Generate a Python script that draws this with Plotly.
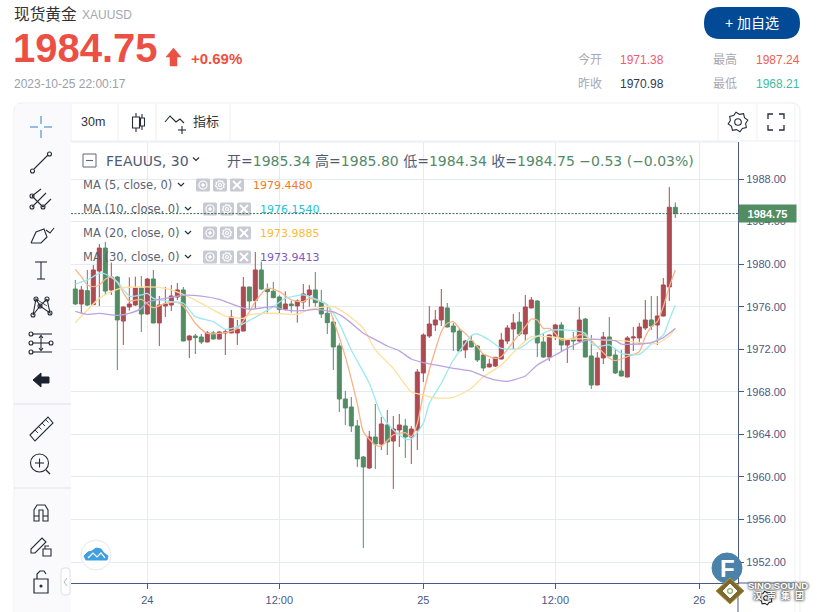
import math
import plotly.graph_objects as go

W, H = 817, 612

# 30m candles
OPEN = [1977.66, 1976.25, 1977.50, 1976.19, 1979.35, 1981.51, 1977.57, 1978.79, 1974.65, 1975.97,
        1976.16, 1977.75, 1975.31, 1978.60, 1974.47, 1976.06, 1976.16, 1976.91, 1977.57, 1972.87,
        1973.24, 1973.15, 1972.68, 1973.53, 1972.96, 1973.53, 1973.53, 1973.53, 1973.71, 1977.85,
        1976.57, 1979.45, 1977.66, 1977.44, 1976.91, 1975.75, 1976.25, 1976.07, 1976.44, 1977.10,
        1977.57, 1976.44, 1975.38, 1974.56, 1972.31, 1967.32, 1966.57, 1964.79, 1961.87, 1960.84,
        1963.75, 1963.09, 1964.88, 1963.37, 1964.41, 1964.79, 1963.75, 1964.41, 1969.77, 1973.24,
        1974.28, 1974.75, 1975.88, 1974.18, 1973.71, 1971.93, 1972.77, 1972.30, 1971.46, 1970.33,
        1970.42, 1971.08, 1972.77, 1973.90, 1974.56, 1973.43, 1975.88, 1976.53, 1972.68, 1971.27,
        1973.24, 1974.28, 1972.40, 1972.96, 1972.77, 1974.84, 1971.37, 1968.64, 1971.18, 1973.15,
        1971.46, 1969.95, 1969.39, 1973.06, 1973.06, 1974.00, 1974.75, 1974.28, 1975.12, 1977.85,
        1985.34]
HIGH = [1978.51, 1977.94, 1979.45, 1979.92, 1981.89, 1982.08, 1980.14, 1978.88, 1976.00, 1978.76,
        1978.82, 1978.88, 1978.70, 1979.45, 1977.00, 1977.85, 1978.04, 1978.22, 1977.85, 1973.34,
        1973.43, 1973.43, 1973.71, 1973.71, 1973.71, 1973.81, 1975.69, 1974.75, 1978.79, 1977.88,
        1981.14, 1980.23, 1978.19, 1978.32, 1977.07, 1977.44, 1976.57, 1976.69, 1978.13, 1978.04,
        1979.26, 1977.57, 1976.07, 1974.91, 1972.56, 1968.08, 1967.51, 1965.35, 1961.97, 1964.32,
        1966.85, 1965.63, 1966.29, 1965.72, 1965.91, 1965.44, 1964.79, 1970.14, 1973.49, 1976.06,
        1975.69, 1977.66, 1976.35, 1974.47, 1974.00, 1972.87, 1973.24, 1972.40, 1971.55, 1971.08,
        1971.27, 1973.53, 1974.28, 1975.31, 1975.50, 1977.10, 1976.91, 1976.62, 1973.43, 1973.37,
        1974.37, 1974.56, 1972.90, 1973.62, 1975.97, 1974.94, 1973.34, 1971.74, 1973.62, 1975.03,
        1972.02, 1971.93, 1973.24, 1974.09, 1974.47, 1976.62, 1977.00, 1977.00, 1978.70, 1987.24,
        1985.80]
LOW = [1976.16, 1975.37, 1976.06, 1976.16, 1976.06, 1977.10, 1977.10, 1970.05, 1972.40, 1975.62,
       1976.06, 1973.62, 1975.25, 1974.44, 1972.30, 1975.03, 1975.59, 1976.62, 1972.75, 1971.18,
       1971.55, 1972.49, 1972.65, 1972.93, 1972.93, 1971.46, 1973.50, 1972.40, 1973.68, 1975.69,
       1975.84, 1977.57, 1975.44, 1976.78, 1975.31, 1975.63, 1975.44, 1974.50, 1975.75, 1976.00,
       1976.00, 1974.94, 1973.43, 1970.05, 1966.10, 1964.88, 1964.22, 1960.93, 1953.32, 1960.74,
       1960.74, 1962.53, 1962.06, 1958.87, 1962.81, 1961.78, 1961.21, 1962.53, 1968.92, 1973.06,
       1973.71, 1974.18, 1974.06, 1971.83, 1971.74, 1971.18, 1972.18, 1970.80, 1969.95, 1970.30,
       1970.33, 1971.05, 1972.49, 1972.02, 1973.24, 1972.77, 1975.85, 1971.27, 1971.18, 1970.90,
       1972.87, 1971.83, 1970.71, 1971.93, 1972.68, 1971.24, 1968.26, 1968.61, 1970.61, 1971.34,
       1969.67, 1969.45, 1969.36, 1971.83, 1972.46, 1973.81, 1973.81, 1972.40, 1975.09, 1976.53,
       1984.34]
CLOSE = [1976.25, 1977.57, 1976.16, 1979.45, 1981.51, 1977.47, 1978.79, 1974.75, 1975.97, 1976.25,
         1977.75, 1975.31, 1978.60, 1974.47, 1976.16, 1976.25, 1977.00, 1977.57, 1972.77, 1973.24,
         1973.09, 1972.68, 1973.53, 1972.96, 1973.62, 1973.62, 1975.03, 1973.90, 1977.85, 1976.53,
         1979.45, 1977.66, 1977.41, 1976.85, 1975.75, 1976.25, 1976.10, 1976.54, 1977.19, 1977.57,
         1976.38, 1975.31, 1974.50, 1972.21, 1967.32, 1966.48, 1964.79, 1961.69, 1960.93, 1963.75,
         1963.09, 1964.97, 1963.28, 1964.50, 1964.88, 1963.75, 1964.50, 1969.86, 1973.34, 1974.37,
         1974.75, 1975.97, 1974.09, 1973.62, 1971.83, 1972.77, 1972.21, 1970.99, 1970.24, 1970.61,
         1971.24, 1972.87, 1974.00, 1974.47, 1973.43, 1975.97, 1976.62, 1972.59, 1971.27, 1973.34,
         1974.28, 1972.40, 1972.87, 1972.77, 1974.75, 1971.27, 1968.64, 1971.18, 1973.15, 1971.37,
         1969.77, 1969.48, 1973.06, 1973.15, 1974.09, 1974.75, 1974.18, 1975.12, 1978.04, 1985.34,
         1984.75]

TICK_BARS = [12, 34, 58, 80, 104]
TICK_TEXT = ["24", "12:00", "25", "12:00", "26"]
PRICE_TICKS = [1952, 1956, 1960, 1964, 1968, 1972, 1976, 1980, 1984, 1988]
LAST_PRICE = 1984.75

# moving averages, read at the bars where the curves bend
MA5_BARS = [0, 1, 2, 3, 4, 5, 6, 7, 8, 9, 11, 13, 15, 17, 18, 20, 22, 25, 27, 29, 30, 32, 34, 36, 38, 39,
            42, 43, 45, 47, 48, 50, 51, 53, 55, 56, 57, 58, 59, 60, 61, 62, 63, 64, 65, 67, 68, 70, 71,
            73, 75, 76, 77, 78, 79, 80, 81, 83, 84, 85, 87, 89, 90, 92, 94, 95, 96, 97, 98, 99, 100]
MA5 = [1979.51, 1978.82, 1978.04, 1977.88, 1978.04, 1978.57, 1978.82, 1978.26, 1977.32, 1976.53, 1976.69,
       1975.90, 1976.32, 1976.41, 1976.06, 1974.44, 1973.49, 1973.55, 1973.96, 1975.50, 1976.47, 1977.72,
       1977.41, 1976.63, 1976.47, 1976.78, 1976.16, 1974.75, 1971.30, 1966.85, 1964.25, 1963.00, 1962.90,
       1963.94, 1964.16, 1963.78, 1965.00, 1967.80, 1970.05, 1971.93, 1973.65, 1974.44, 1974.59, 1973.96,
       1973.49, 1972.25, 1971.55, 1971.15, 1971.30, 1972.71, 1974.12, 1974.84, 1974.75, 1973.96, 1973.96,
       1973.49, 1972.87, 1973.03, 1973.34, 1973.30, 1972.25, 1971.15, 1970.93, 1971.30, 1971.77, 1973.18,
       1974.12, 1974.59, 1976.00, 1977.88, 1979.45]
MA10_BARS = [0, 2, 4, 5, 7, 9, 11, 12, 13, 16, 18, 20, 23, 25, 27, 29, 33, 35, 38, 39, 42, 44, 46, 49, 51,
             53, 55, 56, 58, 59, 61, 63, 65, 66, 67, 69, 71, 74, 76, 79, 82, 85, 86, 87, 89, 91, 94, 96,
             98, 99, 100]
MA10 = [1978.13, 1978.51, 1979.13, 1979.07, 1978.35, 1977.00, 1977.10, 1977.25, 1976.78, 1976.47, 1976.32,
        1975.06, 1974.59, 1973.87, 1974.12, 1974.70, 1976.00, 1976.78, 1977.10, 1976.94, 1976.16, 1974.43,
        1971.93, 1968.80, 1965.82, 1964.41, 1963.56, 1963.56, 1965.04, 1966.91, 1968.80, 1970.99, 1972.56,
        1973.28, 1973.43, 1972.87, 1972.08, 1972.08, 1972.87, 1973.74, 1973.80, 1973.49, 1972.56, 1972.25,
        1972.40, 1971.62, 1971.52, 1972.49, 1973.34, 1974.75, 1976.15]
MA20_BARS = [0, 2, 4, 6, 8, 11, 14, 16, 20, 23, 25, 28, 29, 33, 37, 39, 43, 45, 48, 50, 53, 56, 58, 60, 63,
             66, 68, 71, 74, 76, 79, 82, 85, 88, 91, 94, 97, 99, 100]
MA20 = [1974.50, 1975.69, 1976.78, 1977.41, 1977.79, 1977.85, 1977.82, 1977.57, 1976.62, 1975.69, 1975.12,
        1974.90, 1975.22, 1975.38, 1975.28, 1975.75, 1976.00, 1975.38, 1973.97, 1971.93, 1970.20, 1968.00,
        1967.70, 1967.42, 1967.48, 1968.33, 1969.42, 1970.52, 1972.25, 1973.18, 1973.18, 1972.93, 1973.00,
        1972.87, 1972.80, 1972.62, 1972.55, 1973.24, 1973.99]
MA30_BARS = [0, 2, 4, 7, 9, 11, 12, 15, 18, 21, 24, 27, 29, 33, 35, 38, 40, 43, 45, 48, 50, 52, 54, 56, 58,
             60, 63, 66, 68, 70, 72, 73, 75, 77, 80, 82, 84, 86, 90, 91, 94, 96, 98, 100]
MA30 = [1975.56, 1975.28, 1975.37, 1975.19, 1975.37, 1975.84, 1976.41, 1976.78, 1977.07, 1977.00, 1976.69,
        1976.06, 1975.75, 1976.00, 1975.69, 1975.62, 1975.75, 1975.50, 1974.90, 1973.50, 1972.90, 1972.30,
        1971.85, 1971.08, 1970.74, 1970.52, 1970.21, 1969.95, 1969.48, 1969.11, 1968.98, 1969.11, 1969.48,
        1970.52, 1971.46, 1972.08, 1972.62, 1972.93, 1972.80, 1972.49, 1972.49, 1972.62, 1973.09, 1973.94]

UP = "#ad4a52"
DOWN = "#528c63"
GRID = "#e4ecf2"
AXIS = "#4a5a86"
DARK = "#262b38"
CJK = "Liberation Sans, Noto Sans CJK SC"
VERD = "DejaVu Sans, Noto Sans CJK SC"


def X(p):
    return p / W


def Y(p):
    return 1 - p / H


fig = go.Figure()
# MAs go under the candles like the reference
for bars, vals, col in [(MA5_BARS, MA5, "#fbb286"), (MA10_BARS, MA10, "#9be8f1"),
                        (MA20_BARS, MA20, "#ffdf9b"), (MA30_BARS, MA30, "#bba3e2")]:
    fig.add_trace(go.Scatter(x=bars, y=vals, mode="lines", hoverinfo="skip", showlegend=False,
                             line=dict(color=col, width=1.3, shape="spline", smoothing=0.6)))
fig.add_trace(go.Candlestick(
    x=list(range(len(OPEN))), open=OPEN, high=HIGH, low=LOW, close=CLOSE,
    increasing=dict(line=dict(color=UP, width=1), fillcolor=UP),
    decreasing=dict(line=dict(color=DOWN, width=1), fillcolor=DOWN),
    whiskerwidth=0, hoverinfo="skip", showlegend=False,
))

shapes = []
notes = []


def path(pts, color=DARK, w=1.1, close=False, fill=None, layer="above"):
    d = "M " + " L ".join(f"{X(a):.5f} {Y(b):.5f}" for a, b in pts) + (" Z" if close else "")
    shapes.append(dict(type="path", xref="paper", yref="paper", path=d, layer=layer,
                       line=dict(color=color, width=w), fillcolor=fill or "rgba(0,0,0,0)"))


def circ(cx, cy, r, color=DARK, w=1.1, fill=None):
    shapes.append(dict(type="circle", xref="paper", yref="paper", x0=X(cx - r), x1=X(cx + r),
                       y0=Y(cy + r), y1=Y(cy - r), line=dict(color=color, width=w),
                       fillcolor=fill or "rgba(0,0,0,0)"))


def rect(x0, y0, x1, y1, fill=None, color=None, w=1, layer="above"):
    shapes.append(dict(type="rect", xref="paper", yref="paper", x0=X(x0), x1=X(x1), y0=Y(y1), y1=Y(y0),
                       layer=layer, fillcolor=fill or "rgba(0,0,0,0)",
                       line=dict(color=color or "rgba(0,0,0,0)", width=w)))


def rrect(x0, y0, x1, y1, r, fill=None, color=None, w=1, layer="above"):
    c = lambda a, b: f"{X(a):.5f} {Y(b):.5f}"
    d = (f"M {c(x0 + r, y0)} L {c(x1 - r, y0)} Q {c(x1, y0)} {c(x1, y0 + r)} L {c(x1, y1 - r)} "
         f"Q {c(x1, y1)} {c(x1 - r, y1)} L {c(x0 + r, y1)} Q {c(x0, y1)} {c(x0, y1 - r)} "
         f"L {c(x0, y0 + r)} Q {c(x0, y0)} {c(x0 + r, y0)} Z")
    shapes.append(dict(type="path", xref="paper", yref="paper", path=d, layer=layer,
                       fillcolor=fill or "rgba(0,0,0,0)",
                       line=dict(color=color or "rgba(0,0,0,0)", width=w)))


def text(x, y, s, size=12, color=DARK, family=CJK, anchor="left", shadow=None):
    font = dict(size=size, color=color, family=family)
    if shadow:
        font["shadow"] = shadow
    notes.append(dict(xref="paper", yref="paper", x=X(x - 1 if anchor == "left" else x), y=Y(y), text=s,
                      showarrow=False, xanchor=anchor, yanchor="middle", borderpad=0, font=font))


def chevron(x, y, color="#2b2f3a"):
    path([(x - 3, y - 1.5), (x, y + 1.5), (x + 3, y - 1.5)], color=color, w=1.2)


def gear(cx, cy, r, color=DARK, w=1.1):
    pts = []
    for k in range(16):
        a = k * math.pi / 8 - math.pi / 16
        rad = r if k % 2 == 0 else r * 0.78
        pts.append((cx + rad * math.cos(a), cy + rad * math.sin(a)))
    path(pts, color=color, w=w, close=True)
    circ(cx, cy, r * 0.33, color=color, w=w)


# page card and toolbars
rrect(14, 103, 800, 640, 8, color="#eeeef1", layer="below")
rect(15, 104, 71, 612, fill="#fafafc", layer="below")
for x0 in [71, 118, 156, 230, 718, 757]:
    path([(x0, 104), (x0, 141)], color="#f0f0f3", w=1, layer="below")
path([(71, 141), (800, 141)], color="#eeeef2", w=1, layer="below")
path([(14, 404), (71, 404)], color="#dfe2ea", w=1, layer="below")
path([(14, 488), (71, 488)], color="#dfe2ea", w=1, layer="below")
rrect(61, 568, 70, 595, 3, fill="#ffffff", color="#dde0e6")
path([(67, 578), (64, 582), (67, 586)], color="#a8b8cc", w=1)

# header
text(14, 14, "现货黄金", 15.7, "#333333")
text(82, 15, "XAUUSD", 12, "#a3a7b3")
text(13, 48, "<b>1984.75</b>", 40, "#ec4f43", "Liberation Sans")
path([(173.5, 48), (181, 57), (177, 57), (177, 66), (170, 66), (170, 57), (166, 57)],
     color="#ec4f43", w=0.5, close=True, fill="#ec4f43")
text(191, 59, "<b>+0.69%</b>", 15, "#ec4f43", "Liberation Sans")
text(14, 84, "2023-10-25 22:00:17", 12, "#9a9fac", "Liberation Sans")
rrect(704, 7, 800, 39, 16, fill="#034a96")
text(752, 23, "+ 加自选", 14, "#ffffff", anchor="center")
for x0, y0, s, col in [(578, 60, "今开", "#a8a8b2"), (713, 60, "最高", "#a8a8b2"),
                       (578, 84, "昨收", "#a8a8b2"), (713, 84, "最低", "#a8a8b2"),
                       (620, 60, "1971.38", "#ee5a70"), (756, 60, "1987.24", "#ee6050"),
                       (620, 84, "1970.98", "#2f3a55"), (756, 84, "1968.21", "#3fbba0")]:
    text(x0, y0, s, 12, col)

# top toolbar
text(81, 122, "30m", 12.5, "#333333")
path([(136, 113), (136, 132)])
rect(132.5, 117, 139.5, 128, fill="#ffffff", color=DARK, w=1.1)
path([(142, 114), (142, 130)])
rect(140.5, 118, 144.5, 126, fill="#ffffff", color=DARK, w=1.1)
path([(165, 122), (170, 116), (176, 122), (180, 119), (184, 123)])
path([(182, 126), (182, 134)])
path([(178, 130), (186, 130)])
text(193, 122, "指标", 13, "#333333")
gear(738, 122, 10)
for sx, sy in [(-1, -1), (1, -1), (1, 1), (-1, 1)]:
    cx, cy = 776 + sx * 8, 122 + sy * 8
    path([(cx, cy - sy * 5), (cx, cy), (cx - sx * 5, cy)], w=1.3)

# left toolbar icons
blue = "#3c8ad8"
path([(30, 127), (38, 127)], color=blue)
path([(44, 127), (52, 127)], color=blue)
path([(41, 116), (41, 124)], color=blue)
path([(41, 130), (41, 138)], color=blue)
path([(34, 169), (48, 155)])
circ(32.5, 171, 2)
circ(49.5, 154, 2)
path([(32, 196), (41, 189)])
path([(32, 207), (46, 193)])
path([(43, 207), (51, 199)])
path([(32, 196), (43, 207)])
for a, b in [(32, 196), (32, 207), (43, 207)]:
    circ(a, b, 2)
path([(31, 243), (36, 232), (44, 229), (47, 237), (41, 243), (31, 243)])
path([(46, 230), (50, 233), (54, 228)])
path([(35, 262), (47, 262)])
path([(41, 262), (41, 279)])
path([(37, 279), (45, 279)])
for a, b in [(33, 315), (36, 299), (47, 299), (50, 313), (40, 306)]:
    circ(a, b, 2)
path([(33, 315), (36, 299), (40, 306), (33, 315)])
path([(47, 299), (50, 313), (40, 306), (47, 299)])
path([(36, 299), (47, 306)], w=0.8)
for yy in [334, 352]:
    path([(32, yy), (52, yy)])
    circ(31, yy, 2)
path([(32, 343), (50, 343)])
circ(31, 343, 2)
circ(51, 343, 2)
path([(41, 336), (41, 350)])
path([(39, 338), (41, 335.5), (43, 338)])
path([(39, 348), (41, 350.5), (43, 348)])
path([(33, 380), (41, 373), (41, 377), (49, 377), (49, 383), (41, 383), (41, 387)],
     color="#1c2230", close=True, fill="#1c2230", w=1)
path([(30, 435), (48, 417), (53, 423), (35, 441)], close=True)
for k in range(4):
    path([(35 + k * 3.5, 430 - k * 3.5), (38 + k * 3.5, 433 - k * 3.5)], w=0.9)
circ(39.5, 463, 9)
path([(46, 470), (50, 474)], w=1.3)
path([(35, 463), (44, 463)])
path([(39.5, 458.5), (39.5, 467.5)])
path([(34, 521), (34, 510), (37, 505), (45, 505), (48, 510), (48, 521), (43, 521), (43, 510),
      (39, 510), (39, 521)], close=True)
path([(34, 516), (39, 516)])
path([(43, 516), (48, 516)])
path([(31, 553), (31, 549), (42, 538), (46, 542), (35, 553)], close=True)
rect(43, 549, 51, 556, color=DARK, w=1.1)
path([(45, 549), (45, 546), (49, 546)])
rect(34, 579, 48, 593, color=DARK, w=1.2)
path([(37, 579), (37, 574), (40, 571), (44, 571), (46, 574)], w=1.2)
circ(41, 586, 1, fill=DARK)

# legend
rect(83, 154, 96, 167, color="#5f6678", w=1)
path([(86, 160.5), (93, 160.5)], color="#5f6678")
text(106, 161, "FEAUUS, 30", 14, "#4f5b72", VERD)
chevron(196, 159)
G = "#53896a"
S = "#4f5b72"
text(227, 161,
     f"<span style='color:{S}'>开=</span>1985.34 <span style='color:{S}'>高=</span>1985.80 "
     f"<span style='color:{S}'>低=</span>1984.34 <span style='color:{S}'>收=</span>1984.75 "
     "−0.53 (−0.03%)", 14, G, VERD)

rows = [("MA (5, close, 0)", "1979.4480", "#f57a1f", 185, 181, 196, 253),
        ("MA (10, close, 0)", "1976.1540", "#22c2d6", 209, 188, 203, 260),
        ("MA (20, close, 0)", "1973.9885", "#fdbb2f", 233, 188, 203, 260),
        ("MA (30, close, 0)", "1973.9413", "#7e57c2", 257, 188, 203, 260)]
for name, val, col, yy, chev, btn, vx in rows:
    text(83, yy, name, 11.5, "#5d6270", VERD)
    chevron(chev, yy - 0.5)
    for k, off in enumerate([0, 17, 34]):
        bx = btn + off
        rrect(bx, yy - 6.5, bx + 14, yy + 6.5, 1.5, fill="#c8c9d3")
        if k == 0:
            circ(bx + 7, yy, 4, color="#ffffff", w=1.2)
            circ(bx + 7, yy, 1.3, color="#ffffff", w=1, fill="#ffffff")
        elif k == 1:
            gear(bx + 7, yy, 4.6, color="#ffffff", w=1.2)
        else:
            path([(bx + 3, yy - 4), (bx + 11, yy + 4)], color="#ffffff", w=1.8)
            path([(bx + 3, yy + 4), (bx + 11, yy - 4)], color="#ffffff", w=1.8)
    text(vx, yy, val, 11, col, VERD)

# last price line and tag
shapes.append(dict(type="line", xref="paper", yref="y", x0=X(71), x1=X(738), y0=LAST_PRICE, y1=LAST_PRICE,
                   line=dict(color="#3d7050", width=1, dash="2px,1.5px")))
notes.append(dict(xref="paper", yref="y", x=X(738), y=LAST_PRICE, text="<b>1984.75</b>", showarrow=False,
                  xanchor="left", yanchor="middle", width=57, height=17, borderpad=0, bgcolor=DOWN,
                  font=dict(size=11, color="#ffffff", family="Liberation Sans")))

# axis extensions
path([(738, 583), (795, 583)], color=AXIS, w=1)
path([(738, 583), (738, 612)], color=AXIS, w=1)
path([(795, 104), (795, 612)], color="#eff1f4", w=1, layer="below")
path([(71, 142), (738, 142)], color=GRID, w=1, layer="below")

# logo at the bottom left
circ(96, 555, 15, color="#e4e8ee", w=1, fill="#ffffff")
path([(86, 560), (84, 556), (88, 552), (92, 551), (96, 548), (101, 549), (104, 553), (108, 556),
      (107, 560)], color="#3f9fe0", w=1, close=True, fill="#3f9fe0")
path([(88, 558), (93, 553), (97, 557), (101, 553), (105, 558)], color="#ffffff", w=1.2)

# watermark
circ(727, 568, 15, color="#4a82aa", w=1, fill="#4a82aa")
text(727, 568, "<b>F</b>", 24, "#ffffff", "Liberation Sans", "center")
path([(730, 578), (744, 591), (730, 604), (716, 591)], color="#b9962e", w=1, close=True, fill="#7a6a32")
path([(730, 584), (737, 591), (730, 598), (723, 591)], color="#ffffff", w=1, close=True, fill="#ffffff")
circ(730, 591, 2.4, color="#8fb050", w=1.2)
gear(766, 598, 7, color="#222222")
halo = "0 0 3px #555555, 0 0 3px #555555, 0 0 2px #777777"
text(778, 585, "<b>SINO SOUND</b>", 9.5, "#ffffff", "Liberation Sans", "center", halo)
text(778, 595, "<b>汉  声  集  团</b>", 9, "#ffffff", CJK, "center", halo)

fig.update_layout(
    width=W, height=H, margin=dict(l=0, r=0, t=0, b=0),
    paper_bgcolor="#ffffff", plot_bgcolor="rgba(0,0,0,0)",
    showlegend=False, shapes=shapes, annotations=notes, boxgap=0.05,
    xaxis=dict(domain=[X(71), X(738)], range=[-0.72, 110.45], rangeslider=dict(visible=False),
               tickmode="array", tickvals=TICK_BARS, ticktext=TICK_TEXT, showgrid=True, gridcolor=GRID,
               gridwidth=1, zeroline=False, showline=True, linecolor=AXIS, linewidth=1, ticks="outside",
               ticklen=5, tickcolor=AXIS, ticklabelstandoff=2,
               tickfont=dict(size=11, color=AXIS, family="Liberation Sans")),
    yaxis=dict(domain=[Y(583), Y(142)], range=[1950.026, 1991.478], side="right", tickmode="array",
               tickvals=PRICE_TICKS, tickformat=".2f", showgrid=True, gridcolor=GRID, gridwidth=1,
               zeroline=False, showline=True, linecolor=AXIS, linewidth=1, ticks="outside", ticklen=5,
               tickcolor=AXIS, tickfont=dict(size=11, color=AXIS, family="Liberation Sans")),
)

fig.write_html("out.html", config=dict(displayModeBar=False),
               post_script="document.body.style.margin='0';document.documentElement.style.overflow='hidden';")
